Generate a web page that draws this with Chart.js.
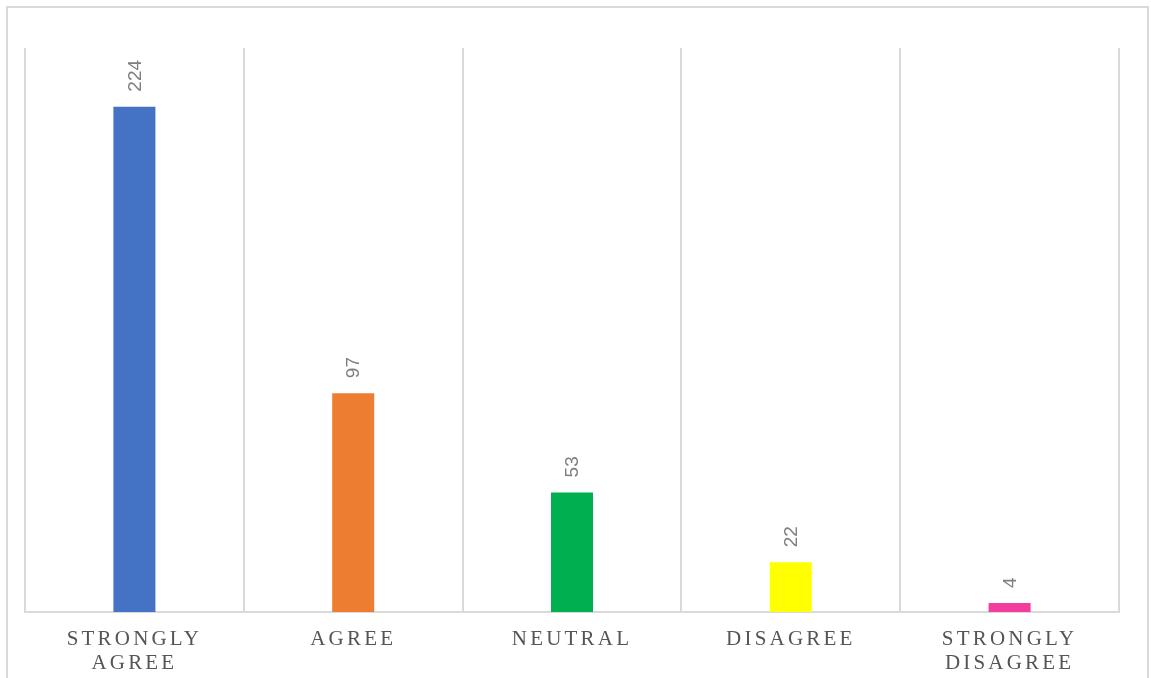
<!DOCTYPE html>
<html>
<head>
<meta charset="utf-8">
<script src="https://cdn.jsdelivr.net/npm/chart.js@4/dist/chart.umd.min.js"></script>
<style>
html,body{margin:0;padding:0;background:#fff;}
#wrap{position:relative;width:1151px;height:678px;}
</style>
</head>
<body>
<div id="wrap"><canvas id="c" width="1151" height="678"></canvas></div>
<script>
const categories = [['STRONGLY','AGREE'], 'AGREE', 'NEUTRAL', 'DISAGREE', ['STRONGLY','DISAGREE']];
const responses = [224, 97, 53, 22, 4];
const barColors = ['#4472c4', '#ed7d31', '#00b050', '#ffff00', '#f23d9e'];

const framePlugin = {
  id: 'frame',
  beforeDraw(chart) {
    const ctx = chart.ctx;
    ctx.save();
    ctx.strokeStyle = '#d9d9d9';
    ctx.lineWidth = 2;
    ctx.strokeRect(7, 7, 1141, 672);
    ctx.restore();
    ctx.letterSpacing = '3.2px';
  },
  beforeDatasetsDraw(chart) {
    chart.ctx.letterSpacing = '0px';
  }
};

const valueLabels = {
  id: 'valueLabels',
  afterDatasetsDraw(chart) {
    const ctx = chart.ctx;
    const meta = chart.getDatasetMeta(0);
    ctx.save();
    ctx.letterSpacing = '0px';
    ctx.fillStyle = '#7f7f7f';
    ctx.font = '19px "Liberation Sans", Arial, sans-serif';
    ctx.textAlign = 'left';
    ctx.textBaseline = 'middle';
    meta.data.forEach((bar, i) => {
      ctx.save();
      ctx.translate(bar.x, bar.y - 15);
      ctx.rotate(-Math.PI / 2);
      ctx.fillText(String(chart.data.datasets[0].data[i]), 0, 1);
      ctx.restore();
    });
    ctx.restore();
  }
};

new Chart(document.getElementById('c'), {
  type: 'bar',
  data: {
    labels: categories,
    datasets: [{
      data: responses,
      backgroundColor: barColors,
      borderWidth: 0,
      barPercentage: 0.192,
      categoryPercentage: 1
    }]
  },
  options: {
    responsive: false,
    animation: false,
    devicePixelRatio: 1,
    layout: { padding: { left: 25, right: 32, top: 48, bottom: 0 } },
    plugins: { legend: { display: false }, tooltip: { enabled: false } },
    scales: {
      y: { display: false, min: 0, max: 250 },
      x: {
        offset: true,
        grid: { color: '#d9d9d9', lineWidth: 2, drawTicks: false, offset: true },
        border: { display: true, color: '#d9d9d9', width: 2 },
        ticks: {
          color: '#555555',
          padding: 15,
          maxRotation: 0,
          autoSkip: false,
          font: { family: '"Liberation Serif", "Times New Roman", serif', size: 21, lineHeight: '24px' }
        },
        afterFit(scale) { scale.height = 66; }
      }
    }
  },
  plugins: [framePlugin, valueLabels]
});
</script>
</body>
</html>
